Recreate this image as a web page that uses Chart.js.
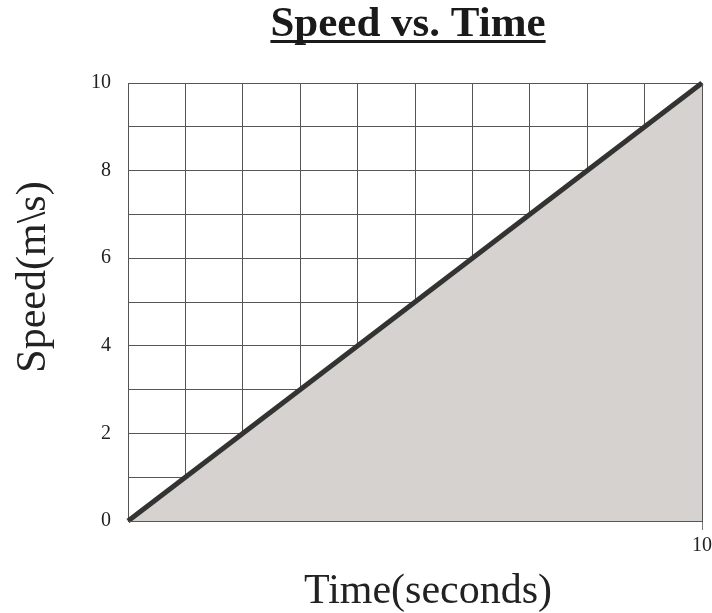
<!DOCTYPE html>
<html>
<head>
<meta charset="utf-8">
<script src="https://cdn.jsdelivr.net/npm/chart.js@4/dist/chart.umd.min.js"></script>
<style>
  html, body { margin: 0; padding: 0; background: #fff; }
  #wrap { width: 712px; height: 613px; }
</style>
</head>
<body>
<div id="wrap"><canvas id="speedChart"></canvas></div>
<script>
// chart values
const chartTitle = 'Speed vs. Time';
const timeValues = [0, 10];
const speedValues = [0, 10];
const xLabel = 'Time(seconds)';
const yLabel = 'Speed(m\\s)';
const yTickLabels = [0, 2, 4, 6, 8, 10];
const xTickLabels = [10];

const SERIF = '"Liberation Serif", "Times New Roman", serif';

// underlined bold title + axis captions (placed like the original, not centred on the plot)
const textPlugin = {
  id: 'captions',
  afterDraw(chart) {
    const ctx = chart.ctx;
    ctx.save();
    ctx.fillStyle = '#1a1a1a';
    ctx.font = 'bold 43px ' + SERIF;
    ctx.textAlign = 'center';
    ctx.textBaseline = 'alphabetic';
    const cx = 408;
    ctx.fillText(chartTitle, cx, 36);
    const w = ctx.measureText(chartTitle).width;
    ctx.fillRect(cx - w / 2, 40, w, 3);

    ctx.fillStyle = '#222';
    ctx.font = '42px ' + SERIF;
    ctx.fillText(xLabel, 428, 603);

    ctx.translate(45, 277);
    ctx.rotate(-Math.PI / 2);
    ctx.fillText(yLabel, 0, 0);
    ctx.restore();
  }
};

// frame edges show over the grey fill
const framePlugin = {
  id: 'frame',
  afterDatasetsDraw(chart) {
    const a = chart.chartArea;
    const ctx = chart.ctx;
    ctx.save();
    ctx.strokeStyle = '#555';
    ctx.lineWidth = 1;
    ctx.beginPath();
    ctx.moveTo(Math.round(a.left) + 0.5, Math.round(a.bottom) + 0.5);
    ctx.lineTo(Math.round(a.right) + 0.5, Math.round(a.bottom) + 0.5);
    ctx.lineTo(Math.round(a.right) + 0.5, Math.round(a.top) + 0.5);
    ctx.stroke();
    ctx.restore();
  }
};

const ctx = document.getElementById('speedChart').getContext('2d');
new Chart(ctx, {
  type: 'line',
  data: {
    datasets: [{
      data: timeValues.map((t, i) => ({ x: t, y: speedValues[i] })),
      borderColor: '#333331',
      borderWidth: 5,
      backgroundColor: '#d5d2cf',
      fill: 'start',
      pointRadius: 0,
      tension: 0,
      clip: 3
    }]
  },
  options: {
    responsive: true,
    maintainAspectRatio: false,
    animation: false,
    layout: { padding: { top: 83, right: 10, left: 0, bottom: 0 } },
    plugins: {
      legend: { display: false },
      tooltip: { enabled: false }
    },
    scales: {
      x: {
        type: 'linear',
        min: 0,
        max: 10,
        afterFit: (scale) => { scale.height = 92; scale.paddingRight = 0; scale.paddingLeft = 0; },
        grid: {
          color: '#555',
          lineWidth: 1,
          tickLength: 9,
          tickColor: (c) => xTickLabels.includes(c.tick.value) ? '#777' : 'rgba(0,0,0,0)'
        },
        border: { color: '#555' },
        ticks: {
          stepSize: 1,
          autoSkip: false,
          maxRotation: 0,
          padding: 4,
          color: '#222',
          font: { family: SERIF, size: 20 },
          callback: (v) => xTickLabels.includes(v) ? String(v) : ''
        }
      },
      y: {
        type: 'linear',
        min: 0,
        max: 10,
        afterFit: (scale) => { scale.width = 128; scale.paddingTop = 0; scale.paddingBottom = 0; },
        grid: { color: '#555', lineWidth: 1, drawTicks: false },
        border: { color: '#555' },
        ticks: {
          stepSize: 1,
          autoSkip: false,
          padding: 17,
          color: '#222',
          font: { family: SERIF, size: 20 },
          callback: (v) => yTickLabels.includes(v) ? String(v) : ''
        }
      }
    }
  },
  plugins: [textPlugin, framePlugin]
});
</script>
</body>
</html>
